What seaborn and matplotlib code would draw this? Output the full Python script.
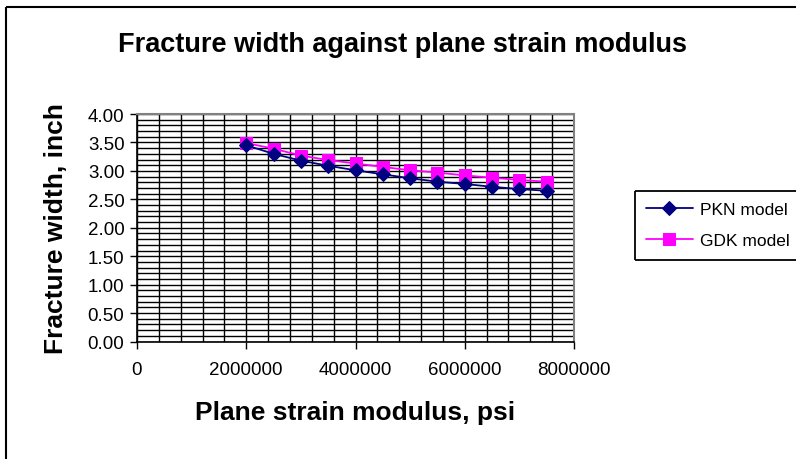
import matplotlib
matplotlib.use("Agg")
import matplotlib.pyplot as plt
from matplotlib.lines import Line2D
from matplotlib.ticker import MultipleLocator, FixedLocator
import seaborn as sns
import pandas as pd

# Plane strain modulus (psi) and fracture widths (inch) for both models
modulus = [2000000, 2500000, 3000000, 3500000, 4000000, 4500000,
           5000000, 5500000, 6000000, 6500000, 7000000, 7500000]
pkn_width = [3.45, 3.30, 3.18, 3.09, 3.01, 2.94, 2.87, 2.81, 2.77, 2.72, 2.68, 2.65]
gdk_width = [3.49, 3.39, 3.27, 3.19, 3.13, 3.07, 3.01, 2.97, 2.92, 2.88, 2.84, 2.81]

x_ticks = [0, 2000000, 4000000, 6000000, 8000000]
y_ticks = [0.0, 0.5, 1.0, 1.5, 2.0, 2.5, 3.0, 3.5, 4.0]

df = pd.DataFrame({"modulus": modulus, "PKN model": pkn_width, "GDK model": gdk_width})

sns.set_theme(style="white")
plt.rcParams["font.family"] = ["Liberation Sans", "DejaVu Sans"]
plt.rcParams["text.color"] = "black"
plt.rcParams["axes.labelcolor"] = "black"
plt.rcParams["xtick.color"] = "black"
plt.rcParams["ytick.color"] = "black"

W, H = 796, 460
fig = plt.figure(figsize=(W / 100, H / 100), dpi=100)
fig.patch.set_facecolor("white")


def fig_line(x0, y0, x1, y1, lw):
    """Draw a straight black line in figure pixel coordinates (y from top)."""
    fig.lines.append(Line2D([x0 / W, x1 / W], [1 - y0 / H, 1 - y1 / H],
                            transform=fig.transFigure, color="black",
                            linewidth=lw, solid_capstyle="butt", zorder=1))


# chart border: top and left edges
fig_line(6, 8, W, 8, 1.5)
fig_line(6, 8, 6, H, 1.5)

left, right, top, bottom = 137, 574, 115, 342.5
ax = fig.add_axes([left / W, 1 - bottom / H, (right - left) / W, (bottom - top) / H])
ax.set_facecolor("white")

sns.lineplot(data=df, x="modulus", y="PKN model", ax=ax, color="#000080",
             marker="D", markersize=7, markeredgecolor="#000080",
             linewidth=1.3, label="PKN model", legend=False, zorder=4)
sns.lineplot(data=df, x="modulus", y="GDK model", ax=ax, color="#FF00FF",
             marker="s", markersize=9, markeredgecolor="#FF00FF",
             linewidth=1.3, label="GDK model", legend=False, zorder=3)

ax.set_xlim(0, 8000000)
ax.set_ylim(0, 4.0)
ax.xaxis.set_major_locator(FixedLocator(x_ticks))
ax.yaxis.set_major_locator(FixedLocator(y_ticks))
ax.xaxis.set_minor_locator(MultipleLocator(400000))
ax.yaxis.set_minor_locator(MultipleLocator(0.1))
ax.set_xticklabels([str(v) for v in x_ticks], fontsize=13.5)
ax.set_yticklabels([f"{v:.2f}" for v in y_ticks], fontsize=13.5)

ax.grid(which="minor", color="black", linewidth=1.0)
ax.grid(which="major", color="black", linewidth=1.0)
ax.set_axisbelow(True)

ax.tick_params(which="major", direction="out", length=5, width=1, color="black",
               bottom=True, left=True, pad=4, labelcolor="black")
ax.tick_params(which="minor", length=0)
ax.tick_params(axis="x", pad=9)

for side in ["left", "bottom"]:
    ax.spines[side].set_color("black")
    ax.spines[side].set_linewidth(1.2)
for side in ["top", "right"]:
    ax.spines[side].set_color("#808080")
    ax.spines[side].set_linewidth(1.5)

ax.set_xlabel("Plane strain modulus, psi", fontsize=19, fontweight="bold", labelpad=16)
ax.set_ylabel("Fracture width, inch", fontsize=19, fontweight="bold", labelpad=14)

fig.text(402 / W, 1 - 45 / H, "Fracture width against plane strain modulus",
         ha="center", va="center", fontsize=19.5, fontweight="bold")

handles, labels = ax.get_legend_handles_labels()
leg = fig.legend(handles, labels, loc="upper left",
                 bbox_to_anchor=(637 / W, 1 - 194 / H), fontsize=12.5,
                 frameon=False, handlelength=2.7, handletextpad=0.4, borderpad=0.5,
                 labelspacing=0.9, borderaxespad=0)
# legend box, running off the right edge of the canvas
fig_line(635, 192, W, 192, 1.3)
fig_line(635, 192, 635, 261, 1.3)
fig_line(635, 261, W, 261, 1.3)

fig.savefig("out.png", dpi=100)
